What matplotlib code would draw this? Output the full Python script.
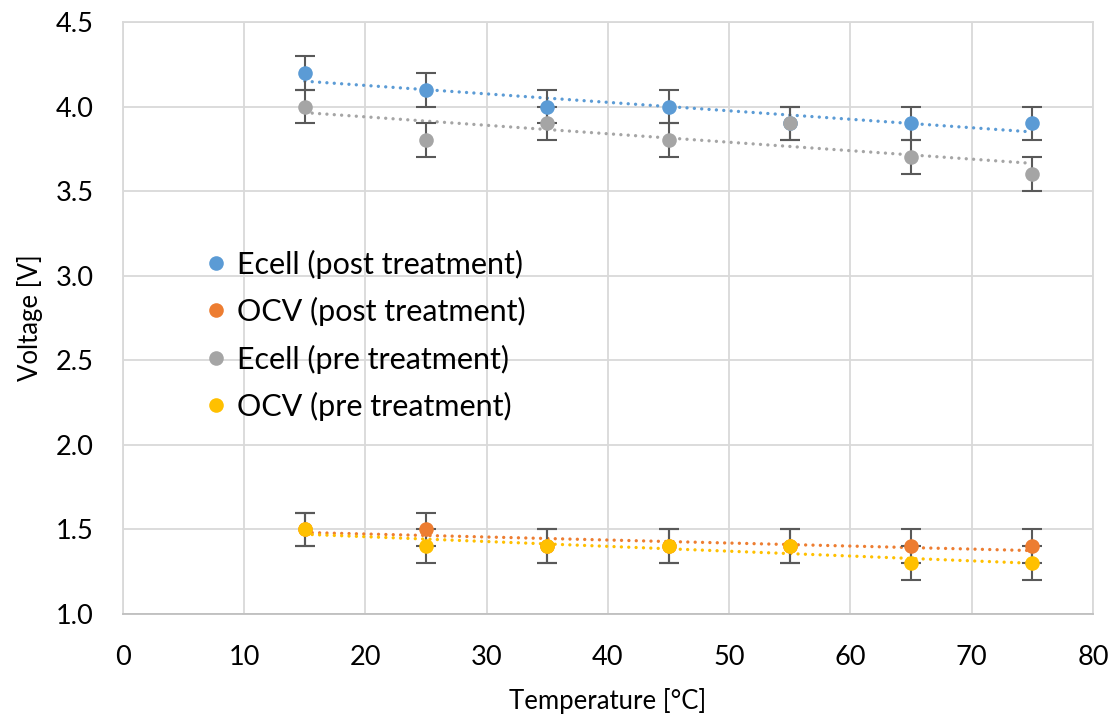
import numpy as np
import matplotlib
matplotlib.use("Agg")
import matplotlib.pyplot as plt

plt.rcParams['font.family'] = ['Lato', 'DejaVu Sans']

temperature = [15, 25, 35, 45, 55, 65, 75]
ecell_post = [4.2, 4.1, 4.0, 4.0, 3.9, 3.9, 3.9]
ocv_post = [1.5, 1.5, 1.4, 1.4, 1.4, 1.4, 1.4]
ecell_pre = [4.0, 3.8, 3.9, 3.8, 3.9, 3.7, 3.6]
ocv_pre = [1.5, 1.4, 1.4, 1.4, 1.4, 1.3, 1.3]
err = 0.1

series = [
    ("Ecell (post treatment)", ecell_post, "#5B9BD5"),
    ("OCV (post treatment)", ocv_post, "#ED7D31"),
    ("Ecell (pre treatment)", ecell_pre, "#A5A5A5"),
    ("OCV (pre treatment)", ocv_pre, "#FFC000"),
]

fig = plt.figure(figsize=(11.18, 7.19), dpi=100)
ax = fig.add_axes([0.110, 0.146, 0.8676, 0.8234])

x = np.array(temperature)
handles = []
for i, (name, vals, col) in enumerate(series):
    y = np.array(vals)
    # linear trendline, like excel
    k, b = np.polyfit(x, y, 1)
    ax.plot(x, k * x + b, color=col, linestyle=(0, (0.01, 2.2)), linewidth=2.4,
            dash_capstyle='round', zorder=2 + i * 0.1)
    ax.errorbar(x, y, yerr=err, fmt='none', ecolor='#595959', elinewidth=1.5,
                capsize=7, capthick=1.5, zorder=3 + i * 0.1)
    h, = ax.plot(x, y, 'o', color=col, markersize=10.5, markeredgewidth=0,
                 zorder=4 + i * 0.1, label=name)
    handles.append(h)

ax.set_xlim(0, 80)
ax.set_ylim(1.0, 4.5)
ax.set_xticks(range(0, 81, 10))
ax.set_yticks(np.arange(1.0, 4.51, 0.5))
ax.set_yticklabels([f"{v:.1f}" for v in np.arange(1.0, 4.51, 0.5)])
ax.grid(True, color='#D9D9D9', linewidth=1.3)
ax.set_axisbelow(True)
ax.tick_params(axis='x', length=0, labelsize=19.5, pad=22, colors='#000000')
ax.tick_params(axis='y', length=0, labelsize=19.5, pad=21, colors='#000000')
for s in ax.spines.values():
    s.set_color('#D9D9D9')
    s.set_linewidth(1.3)
ax.spines['bottom'].set_color('#BFBFBF')

ax.set_xlabel('Temperature [°C]', fontsize=18.5, labelpad=13)
ax.set_ylabel('Voltage [V]', fontsize=18.5, labelpad=9)

leg = ax.legend(handles=handles, loc='upper left', bbox_to_anchor=(0.058, 0.662),
                frameon=False, fontsize=22, handlelength=0.6, handletextpad=0.38,
                labelspacing=0.6, markerscale=1.0)

fig.savefig('out.png', dpi=100)
